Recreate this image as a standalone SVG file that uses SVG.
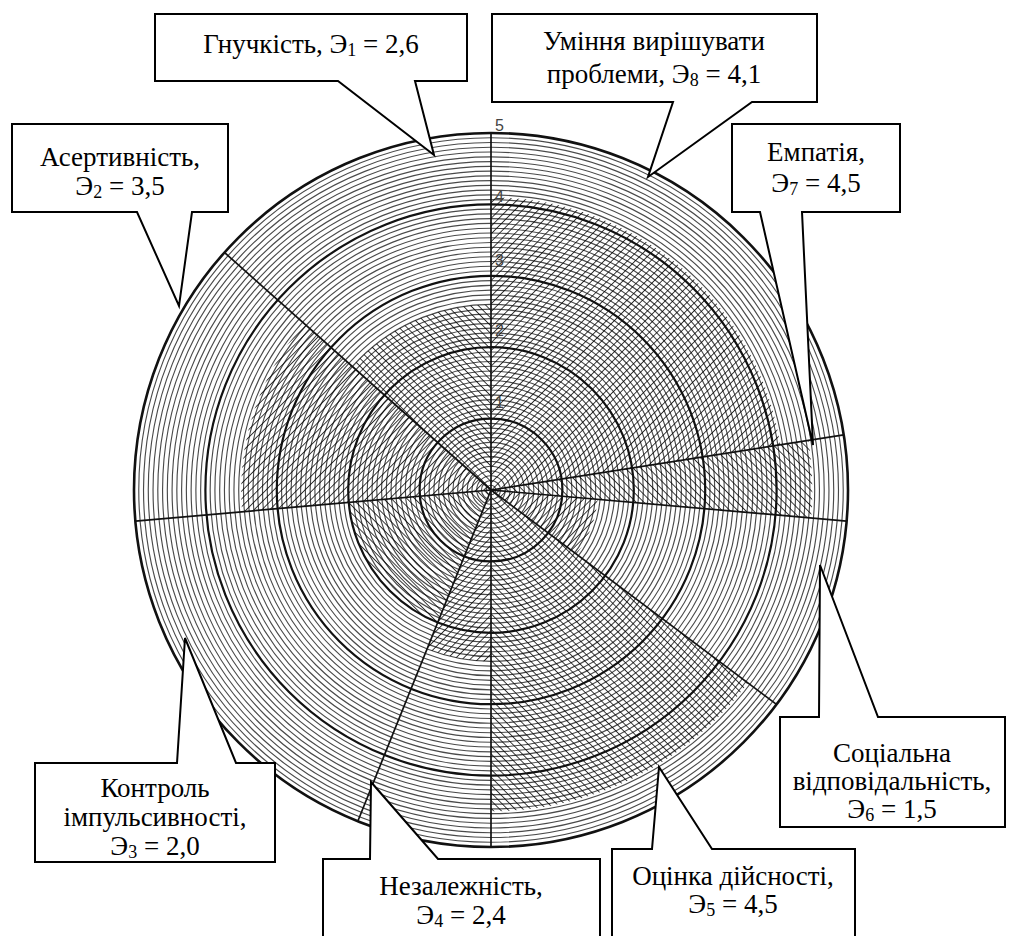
<svg xmlns="http://www.w3.org/2000/svg" width="1011" height="936" viewBox="0 0 1011 936">
<style>
.thin circle{fill:none;stroke:#4a4a4a;stroke-width:1.15}
.bold{fill:none;stroke:#111;stroke-width:2.2}
.ray{stroke:#111;stroke-width:1.7}
.num{font-family:"Liberation Sans",Arial,sans-serif;font-size:16px;fill:#444}
.box{fill:#fff;stroke:#000;stroke-width:2;stroke-linejoin:miter}
.lbl{font-family:"Liberation Serif","Times New Roman","DejaVu Serif",serif;font-size:27px;fill:#000;text-anchor:middle}
.sub{font-size:18px}
</style>
<defs>
<pattern id="hA" width="5.5" height="5.5" patternUnits="userSpaceOnUse" patternTransform="rotate(45)"><line x1="0" y1="0" x2="0" y2="5.5" stroke="#000" stroke-width="1.5"/></pattern>
<pattern id="hB" width="5.5" height="5.5" patternUnits="userSpaceOnUse" patternTransform="rotate(-45)"><line x1="0" y1="0" x2="0" y2="5.5" stroke="#000" stroke-width="1.5"/></pattern>
</defs>
<rect width="1011" height="936" fill="#fff"/>
<g id="chart" transform="translate(491,490)">
<g class="thin">
<circle r="4.76"/><circle r="9.52"/><circle r="14.28"/><circle r="19.04"/><circle r="23.8"/><circle r="28.56"/><circle r="33.32"/><circle r="38.08"/><circle r="42.84"/><circle r="47.6"/><circle r="52.36"/><circle r="57.12"/><circle r="61.88"/><circle r="66.64"/>
<circle r="76.16"/><circle r="80.92"/><circle r="85.68"/><circle r="90.44"/><circle r="95.2"/><circle r="99.96"/><circle r="104.72"/><circle r="109.48"/><circle r="114.24"/><circle r="119"/><circle r="123.76"/><circle r="128.52"/><circle r="133.28"/><circle r="138.04"/>
<circle r="147.56"/><circle r="152.32"/><circle r="157.08"/><circle r="161.84"/><circle r="166.6"/><circle r="171.36"/><circle r="176.12"/><circle r="180.88"/><circle r="185.64"/><circle r="190.4"/><circle r="195.16"/><circle r="199.92"/><circle r="204.68"/><circle r="209.44"/>
<circle r="218.96"/><circle r="223.72"/><circle r="228.48"/><circle r="233.24"/><circle r="238"/><circle r="242.76"/><circle r="247.52"/><circle r="252.28"/><circle r="257.04"/><circle r="261.8"/><circle r="266.56"/><circle r="271.32"/><circle r="276.08"/><circle r="280.84"/>
<circle r="290.36"/><circle r="295.12"/><circle r="299.88"/><circle r="304.64"/><circle r="309.4"/><circle r="314.16"/><circle r="318.92"/><circle r="323.68"/><circle r="328.44"/><circle r="333.2"/><circle r="337.96"/><circle r="342.72"/><circle r="347.48"/><circle r="352.24"/>
</g>
<g id="hatching">
<path fill="url(#hA)" d="M0,0 L0,-292.7 A292.7,292.7 0 0 1 289.2,-45.3 Z"/>
<path fill="url(#hB)" d="M0,0 L317.4,-49.7 A321.3,321.3 0 0 1 320.1,28.0 Z"/>
<path fill="url(#hA)" d="M0,0 L106.7,9.3 A107.1,107.1 0 0 1 85.6,64.3 Z"/>
<path fill="url(#hB)" d="M0,0 L256.9,192.9 A321.3,321.3 0 0 1 0,321.3 Z"/>
<path fill="url(#hA)" d="M0,0 L0,171.4 A171.4,171.4 0 0 1 -63.9,159.0 Z"/>
<path fill="url(#hB)" d="M0,0 L-53.3,132.5 A142.8,142.8 0 0 1 -142.3,12.4 Z"/>
<path fill="url(#hA)" d="M0,0 L-248.9,21.8 A249.9,249.9 0 0 1 -186.6,-166.2 Z"/>
<path fill="url(#hB)" d="M0,0 L-138.6,-123.5 A185.6,185.6 0 0 1 0,-185.6 Z"/>
</g>
<circle class="bold" r="71.4"/>
<circle class="bold" r="142.8"/>
<circle class="bold" r="214.2"/>
<circle class="bold" r="285.6"/>
<circle class="bold" r="357" style="stroke-width:2.6"/>
<g id="rays">
<line class="ray" x1="0" y1="-357" x2="0" y2="357"/>
<line class="ray" x1="0" y1="0" x2="352.7" y2="-55.2"/>
<line class="ray" x1="0" y1="0" x2="355.6" y2="31.1"/>
<line class="ray" x1="0" y1="0" x2="285.5" y2="214.4"/>
<line class="ray" x1="0" y1="0" x2="-133.2" y2="331.2"/>
<line class="ray" x1="0" y1="0" x2="-355.6" y2="31.1"/>
<line class="ray" x1="0" y1="0" x2="-266.5" y2="-237.5"/>
</g>
<g id="scale">
<text class="num" x="4" y="-359">5</text>
<text class="num" x="4" y="-288">4</text>
<text class="num" x="4" y="-224">3</text>
<text class="num" x="4" y="-154">2</text>
<text class="num" x="4" y="-82">1</text>
</g>
</g>
<g id="connectors"></g>
<g id="n1">
<path class="box" d="M155,14 H467 V81 H415 L434,155 L338,81 H155 Z"/>
<text class="lbl" x="311" y="53">Гнучкість, Э<tspan class="sub" dy="3">1</tspan><tspan dy="-3"> = 2,6</tspan></text>
</g>
<g id="n8">
<path class="box" d="M492,14 H817 V102 H752 L648,177 L673,102 H492 Z"/>
<text class="lbl" x="654" y="50">Уміння вирішувати</text>
<text class="lbl" x="654" y="83">проблеми, Э<tspan class="sub" dy="3">8</tspan><tspan dy="-3"> = 4,1</tspan></text>
</g>
<g id="n2">
<path class="box" d="M12,124 H228 V212 H192 L179,306 L137,212 H12 Z"/>
<text class="lbl" x="120" y="166">Асертивність,</text>
<text class="lbl" x="120" y="195">Э<tspan class="sub" dy="3">2</tspan><tspan dy="-3"> = 3,5</tspan></text>
</g>
<g id="n7">
<path class="box" d="M732,124 H900 V212 H802 L813,445 L760,212 H732 Z"/>
<text class="lbl" x="816" y="161">Емпатія,</text>
<text class="lbl" x="816" y="192">Э<tspan class="sub" dy="3">7</tspan><tspan dy="-3"> = 4,5</tspan></text>
</g>
<g id="n6">
<path class="box" d="M780,717 H819 L820,565 L878,717 H1005 V827 H780 Z"/>
<text class="lbl" x="892" y="762">Соціальна</text>
<text class="lbl" x="892" y="790">відповідальність,</text>
<text class="lbl" x="892" y="818">Э<tspan class="sub" dy="3">6</tspan><tspan dy="-3"> = 1,5</tspan></text>
</g>
<g id="n3">
<path class="box" d="M35,763 H177 L185,638 L236,763 H275 V862 H35 Z"/>
<text class="lbl" x="155" y="797">Контроль</text>
<text class="lbl" x="155" y="826">імпульсивності,</text>
<text class="lbl" x="155" y="855">Э<tspan class="sub" dy="3">3</tspan><tspan dy="-3"> = 2,0</tspan></text>
</g>
<g id="n4">
<path class="box" d="M323,859 H370 L371,782 L438,859 H600 V940 H323 Z"/>
<text class="lbl" x="461" y="895">Незалежність,</text>
<text class="lbl" x="461" y="924">Э<tspan class="sub" dy="3">4</tspan><tspan dy="-3"> = 2,4</tspan></text>
</g>
<g id="n5">
<path class="box" d="M612,849 H652 L659,767 L712,849 H855 V940 H612 Z"/>
<text class="lbl" x="733" y="885">Оцінка дійсності,</text>
<text class="lbl" x="733" y="913">Э<tspan class="sub" dy="3">5</tspan><tspan dy="-3"> = 4,5</tspan></text>
</g>
</svg>
